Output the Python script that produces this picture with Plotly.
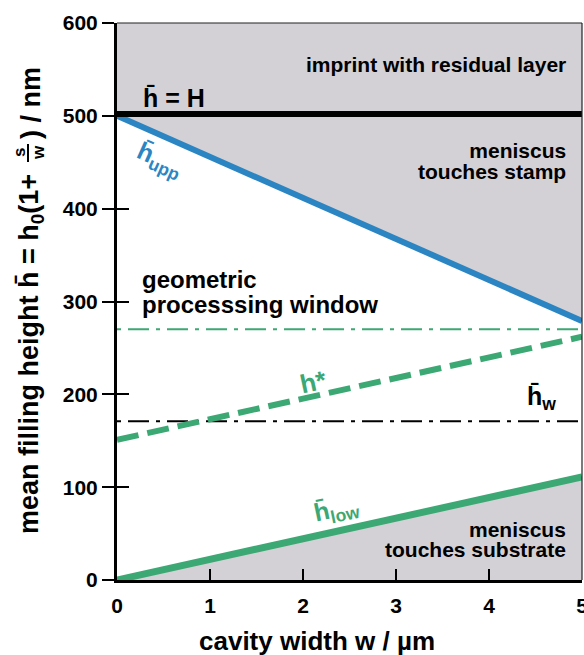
import plotly.graph_objects as go

# ---- data ----
w = [0, 5]                      # cavity width / µm
y_top = [600, 600]
H_line = [502, 502]             # h̄ = H
h_upp = [500, 279]
h_low = [0, 111]
h_star = [151, 262]
h_star_max = [270, 270]
h_w = [171, 171]
x_ticks = [0, 1, 2, 3, 4, 5]
y_ticks = [0, 100, 200, 300, 400, 500, 600]

GRAY = "#d3d1d5"
BLUE = "#2b85c3"
GREEN = "#3ca873"
FONT = "Liberation Sans"

W, HGT = 584, 655
ML, MR, MT, MB = 117, 2, 23, 75
PW, PH = W - ML - MR, HGT - MT - MB


def px(xp):
    return (xp - ML) / PW


def py(yp):
    return (HGT - MB - yp) / PH


def dx(xp):
    return (xp - ML) / PW * 5


def dy(yp):
    return (HGT - MB - yp) / PH * 600


fig = go.Figure()
fig.add_trace(go.Scatter(x=w, y=y_top, mode="lines", line=dict(width=0),
                         hoverinfo="skip", showlegend=False))
fig.add_trace(go.Scatter(x=w, y=h_upp, mode="lines", fill="tonexty", fillcolor=GRAY,
                         line=dict(color=BLUE, width=6), showlegend=False))
fig.add_trace(go.Scatter(x=w, y=h_low, mode="lines", fill="tozeroy", fillcolor=GRAY,
                         line=dict(color=GREEN, width=7), showlegend=False))
fig.add_trace(go.Scatter(x=w, y=H_line, mode="lines",
                         line=dict(color="black", width=6), showlegend=False))
fig.add_trace(go.Scatter(x=w, y=h_star_max, mode="lines",
                         line=dict(color=GREEN, width=2, dash="4px,7px,21px,7px"), showlegend=False))
fig.add_trace(go.Scatter(x=w, y=h_w, mode="lines",
                         line=dict(color="black", width=2, dash="4px,7px,21px,7px"), showlegend=False))
fig.add_trace(go.Scatter(x=w, y=h_star, mode="lines",
                         line=dict(color=GREEN, width=6, dash="22px,9px"), showlegend=False))
# carrier for inside y ticks
fig.add_trace(go.Scatter(x=w, y=h_w, yaxis="y2", mode="lines", line=dict(width=0),
                         hoverinfo="skip", showlegend=False))

tickfont = dict(family=FONT, size=21, color="black", weight="bold")
fig.update_layout(
    width=W, height=HGT,
    margin=dict(l=ML, r=MR, t=MT, b=MB, autoexpand=False),
    paper_bgcolor="white", plot_bgcolor="white",
    xaxis=dict(range=[0, 5], tickvals=x_ticks, ticks="inside", ticklen=11, tickwidth=2,
               tickcolor="black", showline=True, linewidth=3, linecolor="black",
               showgrid=False, zeroline=False, tickfont=tickfont, ticklabelstandoff=5,
               ticklabeloverflow="allow", automargin=False),
    yaxis=dict(range=[0, 600], tickvals=y_ticks, ticks="outside", ticklen=12, tickwidth=1.5,
               tickcolor="black", showline=True, linewidth=3, linecolor="black",
               showgrid=False, zeroline=False, tickfont=tickfont, automargin=False),
    yaxis2=dict(range=[0, 600], overlaying="y", side="left", tickvals=y_ticks, ticks="inside",
                ticklen=12, tickwidth=1.5, tickcolor="black", showticklabels=False,
                showgrid=False, zeroline=False, showline=False, automargin=False),
)

# thin top / right frame
fig.add_shape(type="line", xref="paper", yref="paper", x0=0, x1=1, y0=1, y1=1,
              line=dict(color="#222", width=1.2))
fig.add_shape(type="line", xref="paper", yref="paper", x0=1, x1=1, y0=0, y1=1,
              line=dict(color="#222", width=1.2))


def ann(text, x, y, size=21, color="black", xanchor="center", yanchor="middle",
        angle=0, align="center", ref="data"):
    xr, yr = ("x", "y") if ref == "data" else ("paper", "paper")
    fig.add_annotation(text=text, x=x, y=y, xref=xr, yref=yr, showarrow=False,
                       font=dict(family=FONT, size=size, color=color),
                       xanchor=xanchor, yanchor=yanchor, textangle=angle, align=align)


def tight(lines, px_size):
    return "<br>".join(f"<span style='font-size:{px_size}px'><b>{t}</b></span>" for t in lines)


ann("<b>imprint with residual layer</b>", dx(568), dy(64), xanchor="right")
ann("<b>h\u0304 = H</b>", dx(141), dy(98), size=25, xanchor="left")
ann(tight(["meniscus", "touches stamp"], 21), dx(568), dy(161), size=16,
    xanchor="right", align="right")
ann(tight(["geometric", "processsing window"], 24), dx(140), dy(292), size=19,
    xanchor="left", align="left")
ann(tight(["meniscus", "touches substrate"], 21), dx(568), dy(539), size=15,
    xanchor="right", align="right")
ann("<b>h\u0304<sub>upp</sub></b>", dx(159), dy(160), size=25, color=BLUE, angle=24)
ann("<b>h*</b>", dx(313), dy(382), size=26, color=GREEN, angle=-12)
ann("<b>h\u0304<sub>w</sub></b>", dx(541), dy(398), size=25)
ann("<b>h\u0304<sub>low</sub></b>", dx(336), dy(510), size=25, color=GREEN, angle=-12)

# axis titles
ann("<b>cavity width w / µm</b>", px(317), py(641), size=26, ref="paper")
ann("<b>mean filling height h\u0304 = h<sub>0</sub>(1+</b>", px(31), py(536), size=27,
    angle=-90, yanchor="bottom", ref="paper")
ann("<b>s</b>", px(19), py(153), size=17, ref="paper", angle=-90)
ann("<b>w</b>", px(38), py(153), size=17, ref="paper", angle=-90)
fig.add_shape(type="line", xref="paper", yref="paper", x0=px(28), x1=px(28),
              y0=py(144), y1=py(162), line=dict(color="black", width=2))
ann("<b>) / nm</b>", px(31), py(141), size=27, angle=-90, yanchor="bottom", ref="paper")

fig.write_html("out.html")
